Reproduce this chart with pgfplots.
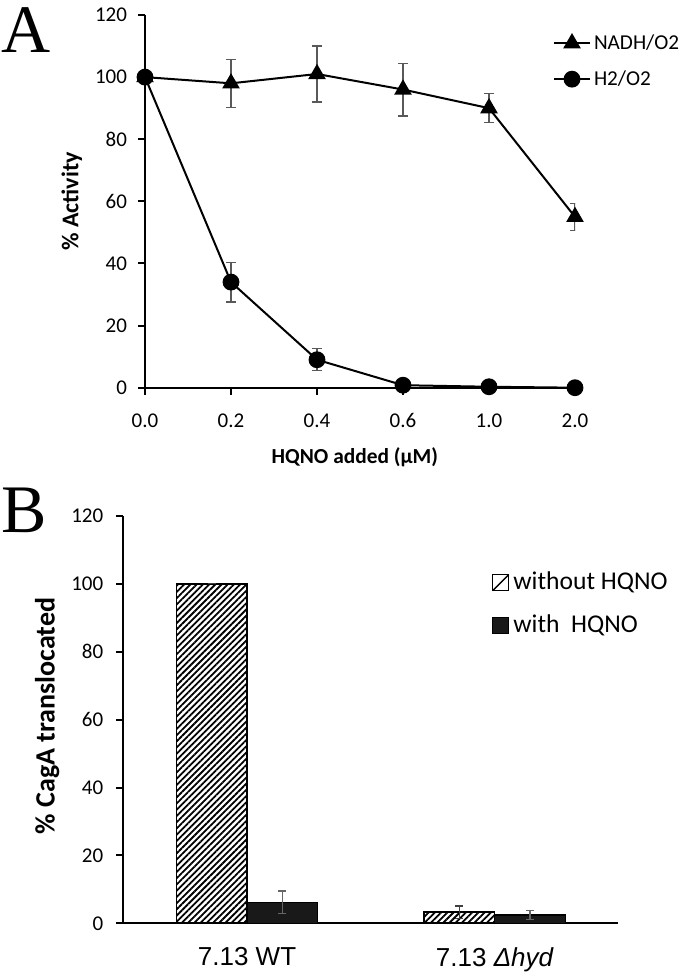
\documentclass[border=0pt]{standalone}
\usepackage{fontspec}
\setmainfont{Carlito}
\newfontfamily\libsans{Liberation Sans}
\newfontfamily\libserif{Liberation Serif}
\usepackage{pgfplots}
\pgfplotsset{compat=1.18}
\usetikzlibrary{patterns.meta}

\pgfplotstableread{
x y e
0 100 0
1 98 7.7
2 101 9
3 96 8.5
4 90 4.7
5 55 4.4
}\nadh
\pgfplotstableread{
x y e
0 100 0
1 34 6.4
2 9 3.5
3 0.8 0
4 0.3 0
5 0 0
}\htwo

\begin{document}
\begin{tikzpicture}
\path[use as bounding box] (0,0) rectangle (340pt,487pt);
\node[anchor=north west, inner sep=0pt, font=\libserif\fontsize{34}{34}\selectfont] at (0.5pt,483.5pt) {A};
\node[anchor=north west, inner sep=0pt, font=\libserif\fontsize{34}{34}\selectfont] at (0.5pt,243pt) {B};

\begin{axis}[
  at={(72.5pt,293.15pt)}, anchor=south west,
  scale only axis, width=215pt, height=186.35pt,
  xmin=0, xmax=5, ymin=0, ymax=120, enlargelimits=false,
  axis lines=left, axis line style={-, line width=1pt, black},
  xtick={0,...,5}, xticklabels={0.0,0.2,0.4,0.6,1.0,2.0},
  ytick={0,20,...,120},
  tick align=outside, major tick length=3.5pt,
  tick style={line width=1pt, black},
  /pgf/number format/assume math mode=true,
  tick label style={font=\fontsize{10.5}{12}\selectfont},
  xticklabel style={yshift=-6pt},
  yticklabel style={xshift=-2pt},
  every axis y label/.style={at={(-0.17,0.5)}, rotate=90, anchor=center},
  every axis x label/.style={at={(0.488,-0.186)}, anchor=center},
  ylabel={\bfseries\fontsize{12}{14}\selectfont \% Activity},
  xlabel={\bfseries\fontsize{10.7}{13}\selectfont HQNO added (µM)},
  legend style={at={(0.947,0.876)}, anchor=west, draw=none, fill=none,
    font=\fontsize{10.6}{12}\selectfont, row sep=6.5pt, inner sep=0pt,
    nodes={inner sep=1.3pt}},
  legend cell align=left,
  legend image code/.code={
    \draw[mark repeat=2, mark phase=2, #1] plot coordinates {(0pt,0pt) (9.2pt,0pt) (18.4pt,0pt)};},
]
\addplot[black, line width=1pt, mark=triangle*, mark size=4.1pt,
  mark options={solid},
  error bars/.cd, y dir=both, y explicit,
  error bar style={black!65, line width=0.6pt},
  error mark options={rotate=90, mark size=2.3pt, black!65, line width=0.6pt}]
  table[x=x, y=y, y error=e] {\nadh};
\addlegendentry{NADH/O2}
\addplot[black, line width=1pt, mark=*, mark size=3.7pt,
  mark options={solid},
  error bars/.cd, y dir=both, y explicit,
  error bar style={black!65, line width=0.6pt},
  error mark options={rotate=90, mark size=2.3pt, black!65, line width=0.6pt}]
  table[x=x, y=y, y error=e] {\htwo};
\addlegendentry{H2/O2}
\end{axis}

\begin{axis}[
  at={(61.65pt,25.35pt)}, anchor=south west,
  scale only axis, width=247.5pt, height=203.65pt,
  xmin=0, xmax=2, ymin=0, ymax=120, enlargelimits=false,
  axis lines=left, axis line style={-, line width=1pt, black},
  xtick={0.5,1.5},
  xticklabels={7.13 WT, 7.13 {\itshape Δhyd}},
  minor xtick={0,1,2},
  ytick={0,20,...,120},
  tick align=outside, major tick length=3.5pt, minor tick length=3.5pt,
  xtick style={draw=none},
  minor tick style={line width=1pt, black},
  ytick style={line width=1pt, black},
  /pgf/number format/assume math mode=true,
  yticklabel style={font=\fontsize{10.5}{12}\selectfont, xshift=-3pt},
  xticklabel style={font=\libsans\fontsize{13}{15}\selectfont, yshift=-5pt},
  every axis y label/.style={at={(-0.154,0.509)}, rotate=90, anchor=center},
  ylabel={\bfseries\fontsize{14}{16}\selectfont \% CagA translocated},
  legend style={at={(0.744,0.784)}, anchor=west, draw=none, fill=none,
    font=\fontsize{12.8}{14}\selectfont, row sep=7pt, inner sep=0pt},
  legend cell align=left,
]
\addplot[ybar, bar width=0.285, bar shift=0pt, draw=black, line width=0.7pt,
  pattern={Lines[angle=45, distance=2.2pt, line width=0.9pt]}, pattern color=black,
  legend image code/.code={
    \draw[black, fill=white, line width=0.7pt] (0pt,-4pt) rectangle (8pt,4pt);
    \draw[black, line width=0.7pt] (0pt,-4pt) -- (8pt,4pt);},
  error bars/.cd, y dir=both, y explicit,
  error bar style={black!75, line width=0.6pt},
  error mark options={rotate=90, mark size=2pt, black!75, line width=0.6pt}]
  coordinates {(0.357,100) +- (0,0) (1.357,3.3) +- (0,1.8)};
\addlegendentry{without HQNO}
\addplot[ybar, bar width=0.285, bar shift=0pt, draw=black, line width=0.7pt,
  fill=black!90,
  legend image code/.code={
    \draw[black, fill=black!90, line width=0.7pt] (0pt,-4pt) rectangle (8pt,4pt);},
  error bars/.cd, y dir=both, y explicit,
  error bar style={black!60, line width=0.6pt},
  error mark options={rotate=90, mark size=2pt, black!60, line width=0.6pt}]
  coordinates {(0.643,6.2) +- (0,3.3) (1.643,2.4) +- (0,1.3)};
\addlegendentry{with\ \ HQNO}
\end{axis}
\end{tikzpicture}
\end{document}
